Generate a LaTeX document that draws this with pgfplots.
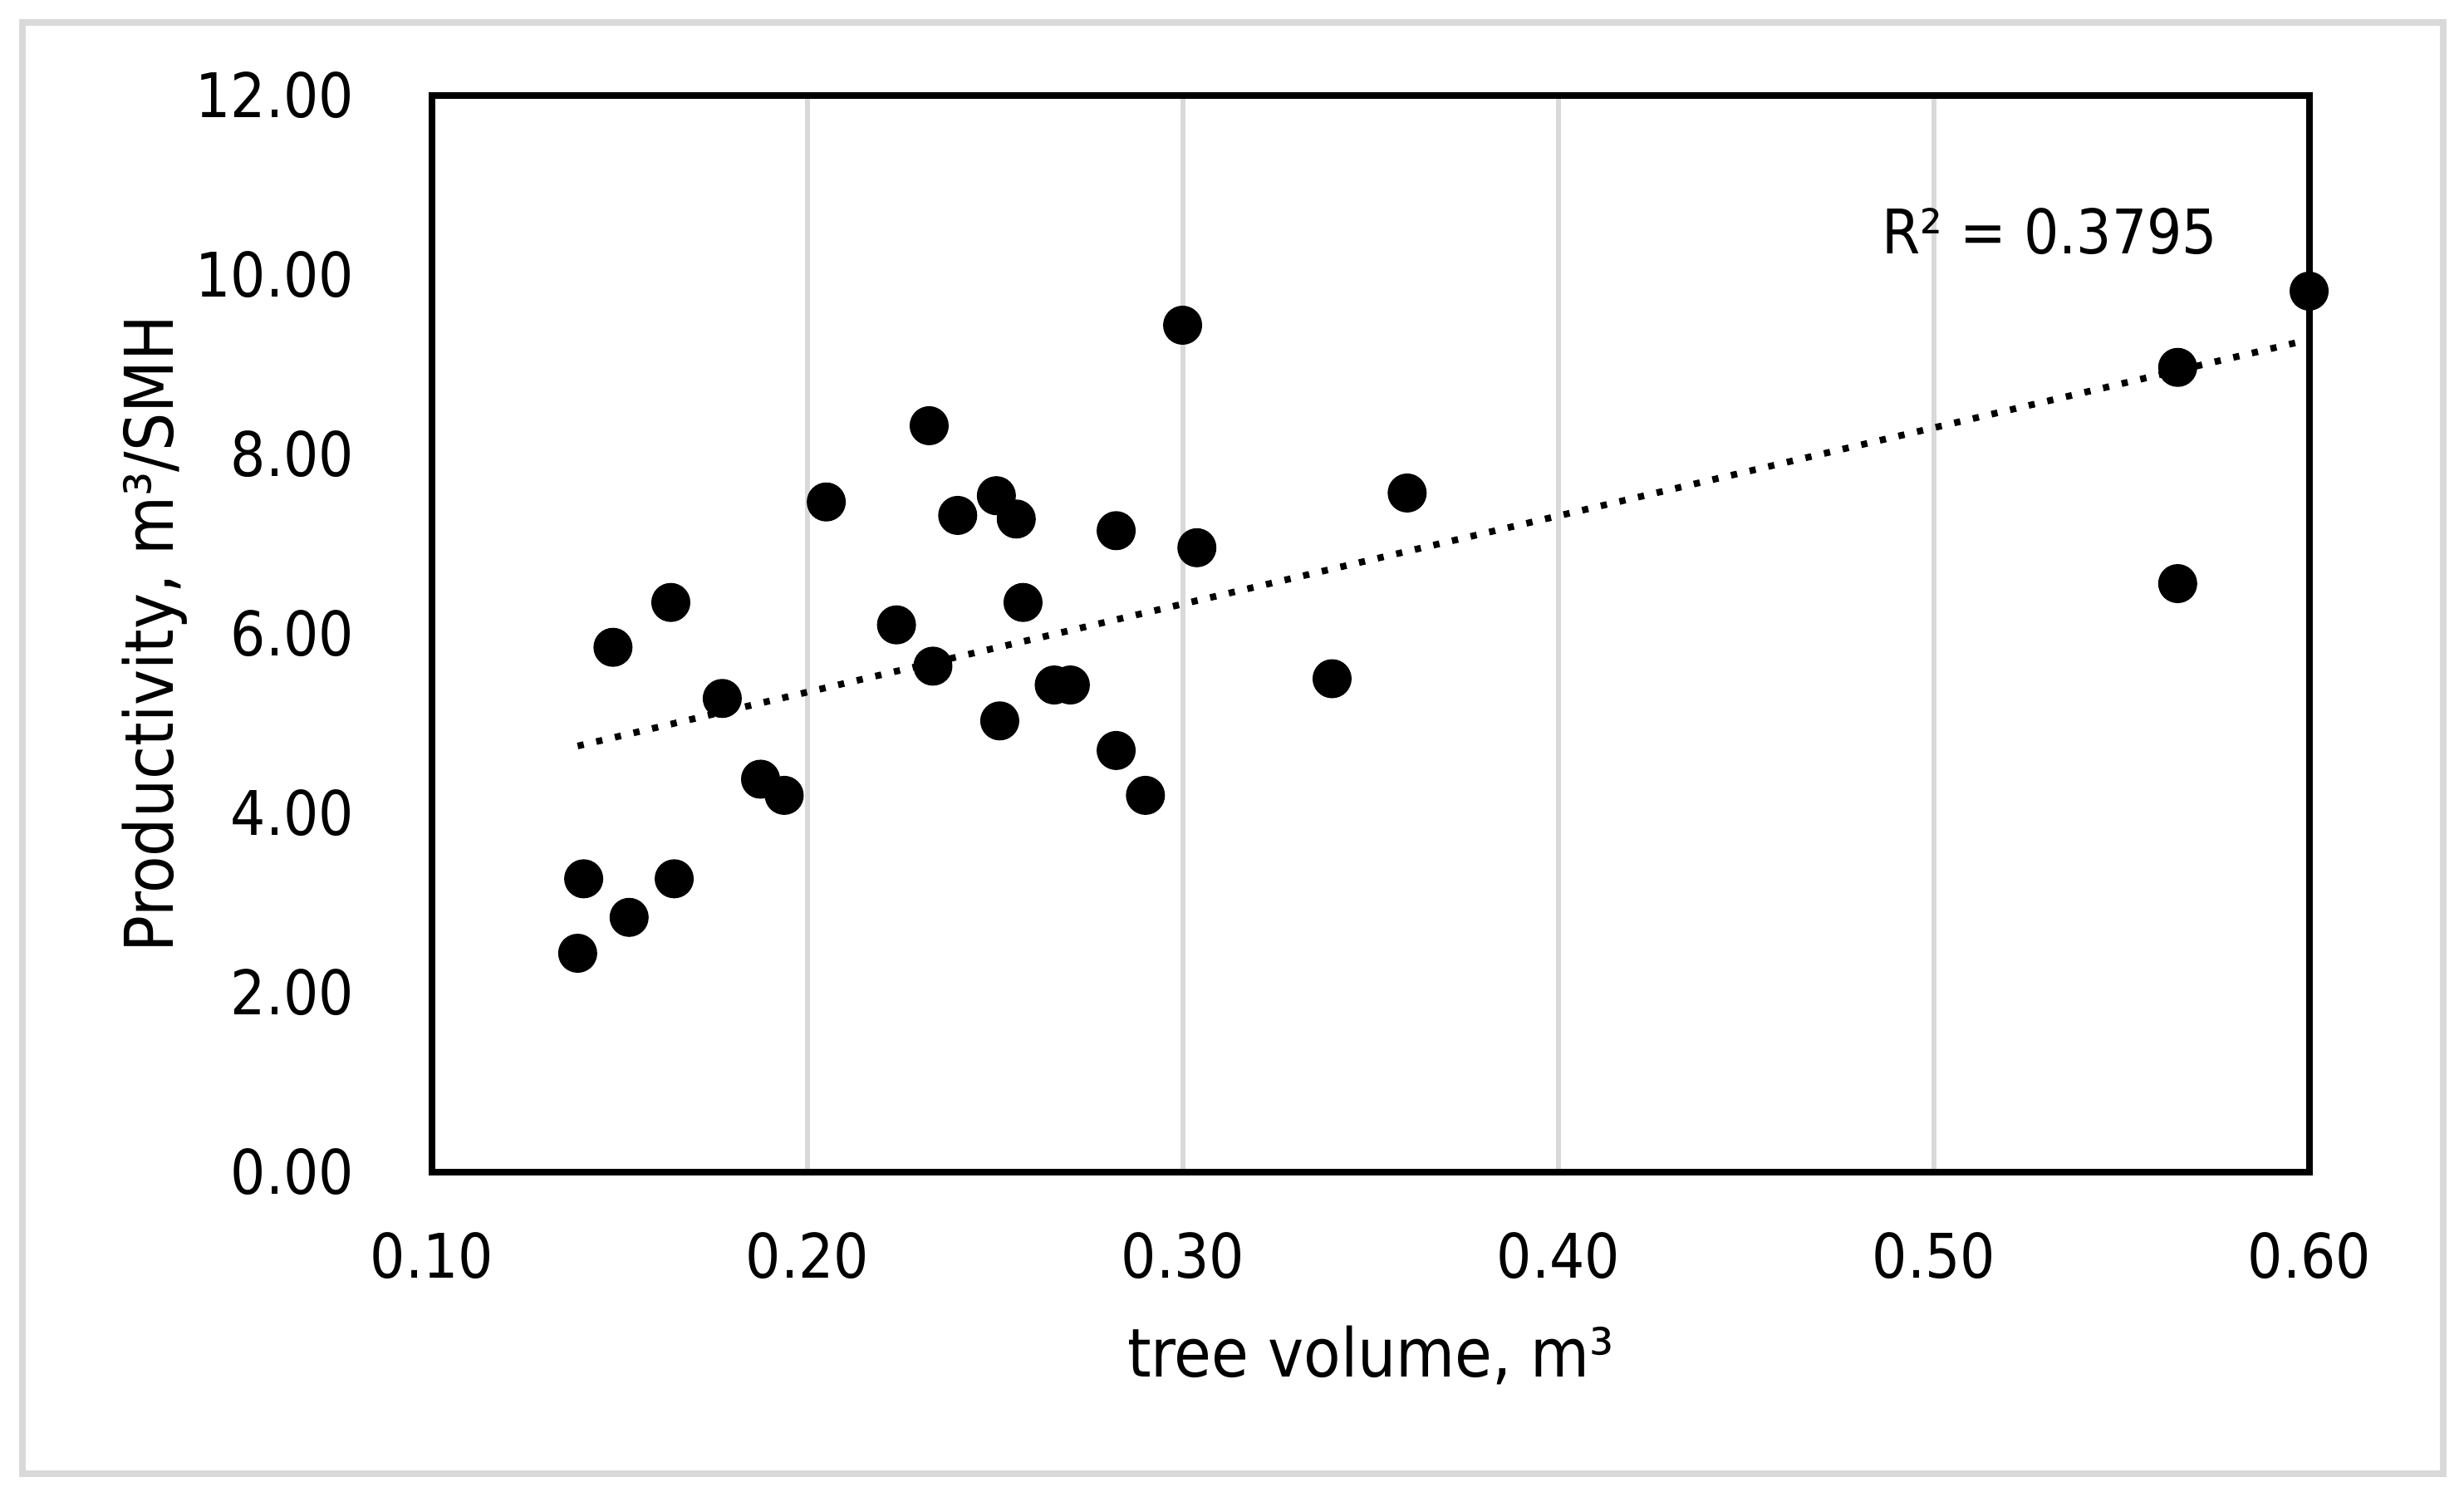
\documentclass[border=0pt]{standalone}
\usepackage{fontspec}
\setmainfont{DejaVu Sans Condensed}
\usepackage{pgfplots}
\pgfplotsset{compat=1.18}
\definecolor{gridgray}{HTML}{D9D9D9}
\begin{document}
\begin{tikzpicture}
\path[use as bounding box] (-104pt,-76.8pt) rectangle (489.2pt,282.2pt);
\fill[white] (-104pt,-76.8pt) rectangle (489.2pt,282.2pt);
\draw[gridgray, line width=1.6pt] (-98.6pt,-72.6pt) rectangle (484.2pt,276.8pt);
\begin{axis}[
  at={(0pt,0pt)}, anchor=south west,
  scale only axis, width=452pt, height=259.2pt,
  xmin=0.1, xmax=0.6, ymin=0, ymax=12,
  xtick={0.1,0.2,0.3,0.4,0.5,0.6},
  ytick={0,2,4,6,8,10,12},
  major tick length=0pt,
  tick style={draw=none},
  xmajorgrids,
  grid style={draw=gridgray, line width=1.3pt},
  axis line style={black, line width=1.6pt},
  /pgf/number format/fixed,
  /pgf/number format/fixed zerofill,
  /pgf/number format/precision=2,
  /pgf/number format/assume math mode=true,
  ticklabel style={font=\fontsize{14.8}{17}\selectfont, inner sep=0pt},
  yticklabel style={anchor=east, xshift=-18.6pt},
  xticklabel style={anchor=north, yshift=-14.4pt},
  clip=false,
]
\addplot[only marks, mark=*, mark size=4.5pt, black, mark options={fill=black, draw=black}] coordinates {
(0.1388,2.44) (0.1404,3.27) (0.1482,5.85) (0.1525,2.84) (0.1636,6.35)
(0.1645,3.27) (0.1773,5.28) (0.1875,4.38) (0.1938,4.20) (0.2050,7.47)
(0.2237,6.10) (0.2324,8.32) (0.2334,5.64) (0.2400,7.32) (0.2503,7.54)
(0.2512,5.03) (0.2556,7.28) (0.2574,6.35) (0.2657,5.43) (0.2700,5.43)
(0.2822,7.15) (0.2822,4.70) (0.2900,4.20) (0.2999,9.44) (0.3037,6.96)
(0.3397,5.50) (0.3597,7.57) (0.5649,8.97) (0.5649,6.56) (0.5999,9.82)
};
\addplot[black, line width=1.6pt, dash pattern=on 1.5pt off 3.1pt, line cap=butt] coordinates {
(0.1388,4.75) (0.600,9.28)
};
\node[anchor=base, font=\fontsize{14.8}{17}\selectfont, inner sep=0pt] at (axis cs:0.5308,10.24) {R² = 0.3795};
\end{axis}
\node[anchor=base, font=\fontsize{16.2}{19}\selectfont, inner sep=0pt] at (226pt,-49.2pt) {tree volume, m³};
\node[anchor=base, rotate=90, font=\fontsize{16.2}{19}\selectfont, inner sep=0pt] at (-62.2pt,129.6pt) {Productivity, m³/SMH};
\end{tikzpicture}
\end{document}
